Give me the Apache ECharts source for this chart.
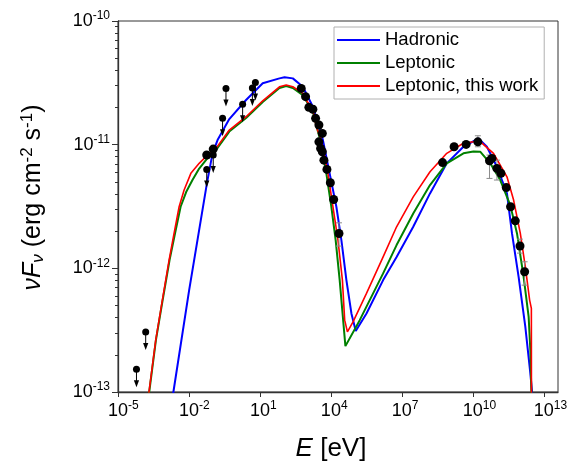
<!DOCTYPE html>
<html>
<head>
<meta charset="utf-8">
<script src="https://cdn.jsdelivr.net/npm/echarts@6/dist/echarts.min.js"></script>
<style>
  html, body { margin: 0; padding: 0; background: #fff; }
  #chart { width: 574px; height: 466px; }
</style>
</head>
<body>
<div id="chart"></div>
<script>
// values, stored as [log10(E / eV), log10(nuFnu / erg cm^-2 s^-1)]
const hadronic = [
  [-2.72, -13.074], [-2.658, -13.0], [-1.992, -12.176], [-1.241, -11.313], [-1.003, -11.07],
  [-0.791, -10.963], [-0.295, -10.793], [0.414, -10.639], [1.118, -10.504], [1.826, -10.464],
  [2.039, -10.455], [2.391, -10.464], [2.815, -10.532], [3.239, -10.693], [3.664, -10.963],
  [3.948, -11.232], [4.232, -11.502], [4.444, -11.772], [4.656, -12.095], [4.868, -12.365],
  [5.051, -12.506], [5.505, -12.365], [6.209, -12.095], [6.778, -11.909], [7.482, -11.664],
  [8.191, -11.394], [8.899, -11.151], [9.604, -11.017], [10.24, -10.949], [10.596, -11.017],
  [11.02, -11.179], [11.444, -11.394], [11.657, -11.718], [11.937, -12.069], [12.221, -12.473],
  [12.433, -12.85], [12.505, -12.999], [12.52, -13.2]
];
const leptonic = [
  [-3.74, -13.09], [-3.68, -13.0], [-3.397, -12.581], [-3.112, -12.257], [-2.82, -11.934],
  [-2.586, -11.715], [-2.353, -11.502], [-2.119, -11.383], [-1.852, -11.286], [-1.568, -11.193],
  [-1.216, -11.108], [-0.859, -11.044], [-0.295, -10.894], [0.414, -10.785], [1.118, -10.655],
  [1.826, -10.542], [2.111, -10.526], [2.391, -10.542], [2.815, -10.599], [3.239, -10.736],
  [3.524, -10.947], [3.808, -11.232], [4.02, -11.502], [4.202, -11.772], [4.372, -12.095],
  [4.614, -12.629], [5.22, -12.419], [6.209, -12.041], [6.778, -11.812], [7.482, -11.556],
  [8.191, -11.327], [8.899, -11.151], [9.604, -11.07], [10.028, -11.056], [10.312, -11.057],
  [10.736, -11.151], [11.16, -11.286], [11.584, -11.489], [11.869, -11.718], [12.149, -12.069],
  [12.361, -12.392], [12.433, -12.662], [12.476, -12.999], [12.49, -13.2]
];
const leptonicThisWork = [
  [-3.75, -13.09], [-3.69, -13.0], [-3.405, -12.581], [-3.125, -12.257], [-2.84, -11.934],
  [-2.628, -11.715], [-2.416, -11.502], [-2.205, -11.367], [-1.92, -11.232], [-1.568, -11.151],
  [-1.216, -11.084], [-0.859, -11.03], [-0.295, -10.882], [0.414, -10.774], [1.118, -10.645],
  [1.826, -10.532], [2.111, -10.518], [2.391, -10.532], [2.815, -10.585], [2.959, -10.639],
  [3.239, -10.72], [3.384, -10.855], [3.596, -10.963], [3.876, -11.232], [4.088, -11.502],
  [4.3, -11.772], [4.487, -12.095], [4.584, -12.419], [4.699, -12.514], [4.937, -12.433],
  [5.505, -12.203], [6.209, -11.907], [6.778, -11.664], [7.482, -11.422], [8.191, -11.219],
  [8.899, -11.07], [9.604, -10.989], [10.028, -10.977], [10.312, -10.975], [10.876, -11.07],
  [11.444, -11.26], [11.725, -11.448], [12.009, -11.718], [12.221, -11.988], [12.403, -12.257],
  [12.476, -12.324], [12.48, -13.2]
];
const detections = [
  [-1.249, -11.084], [-0.974, -11.036], [2.747, -10.545], [2.93, -10.612], [3.07, -10.698],
  [3.239, -10.714], [3.354, -10.787], [3.494, -10.841], [3.638, -10.909], [3.494, -10.977],
  [3.566, -11.03], [3.638, -11.057], [3.706, -11.125], [3.833, -11.2], [3.978, -11.308],
  [4.118, -11.443], [4.342, -11.718], [8.721, -11.145], [9.209, -11.017], [9.718, -10.998],
  [10.214, -10.977], [10.706, -11.13], [10.808, -11.111], [11.02, -11.192], [11.19, -11.232],
  [11.415, -11.347], [11.597, -11.502], [11.796, -11.616], [11.996, -11.819], [12.191, -12.028]
];
const upperLimits = [
  [-4.219, -12.816], [-3.829, -12.514], [-1.249, -11.201], [-0.974, -11.084], [-0.579, -10.787],
  [-0.435, -10.545], [0.269, -10.674], [0.681, -10.542], [0.808, -10.498]
];
// [log10 E, log10 lower, log10 upper]
const errorBars = [
  [4.342, -11.82, -11.632], [10.214, -11.017, -10.928], [10.706, -11.273, -11.084],
  [11.02, -11.286, -11.125], [11.996, -11.877, -11.764], [12.191, -12.136, -11.947]
];
const seriesNames = ['Hadronic', 'Leptonic', 'Leptonic, this work'];
const seriesColors = ['#0000FF', '#008000', '#FF0000'];
const yMinorTicks = [];
[-13, -12, -11].forEach(d => [2, 3, 4, 5, 6, 7, 8, 9].forEach(k => yMinorTicks.push(d + Math.log10(k))));

const lin = rows => rows.map(r => r.map(v => Math.pow(10, v)));
const font = 'Liberation Sans, Arial, sans-serif';
const powRich = {
  b: { fontSize: 18, fontFamily: font, color: '#000' },
  s: { fontSize: 12, fontFamily: font, color: '#000', padding: [0, 0, 10, 0] },
  h: { fontSize: 12, fontFamily: font, color: 'rgba(0,0,0,0)', padding: [0, 0, 10, 0] }
};
// x labels: a hidden copy of the exponent on the left keeps "10" centred on the tick
const xLabel = v => {
  const e = Math.round(Math.log10(v));
  return '{h|' + e + '}{b|10}{s|' + e + '}';
};
const yLabel = v => '{b|10}{s|' + Math.round(Math.log10(v)) + '}';

function renderLimit(params, api) {
  const p = api.coord([api.value(0), api.value(1)]);
  return {
    type: 'group',
    children: [
      { type: 'line', shape: { x1: p[0], y1: p[1], x2: p[0], y2: p[1] + 12 }, style: { stroke: '#000', lineWidth: 1 } },
      { type: 'polygon', shape: { points: [[p[0] - 2.6, p[1] + 11], [p[0] + 2.6, p[1] + 11], [p[0], p[1] + 18]] }, style: { fill: '#000' } },
      { type: 'circle', shape: { cx: p[0], cy: p[1], r: 3.5 }, style: { fill: '#000' } }
    ]
  };
}

function renderErr(params, api) {
  const x = api.value(0);
  const lo = api.coord([x, api.value(1)]);
  const hi = api.coord([x, api.value(2)]);
  const st = { stroke: '#8c8c8c', lineWidth: 1 };
  return {
    type: 'group',
    children: [
      { type: 'line', shape: { x1: lo[0], y1: lo[1], x2: hi[0], y2: hi[1] }, style: st },
      { type: 'line', shape: { x1: lo[0] - 3, y1: lo[1], x2: lo[0] + 3, y2: lo[1] }, style: st },
      { type: 'line', shape: { x1: hi[0] - 3, y1: hi[1], x2: hi[0] + 3, y2: hi[1] }, style: st }
    ]
  };
}

const chart = echarts.init(document.getElementById('chart'), null, { renderer: 'canvas' });

chart.setOption({
  animation: false,
  textStyle: { fontFamily: font },
  grid: {
    left: 118, right: 16, top: 21, bottom: 74,
    show: true, borderColor: '#333', borderWidth: 1,
    outerBoundsMode: 'none'
  },
  legend: {
    data: seriesNames,
    orient: 'vertical',
    left: 334, top: 27,
    itemWidth: 43, itemHeight: 12, itemGap: 3,
    padding: [3, 6, 3, 2],
    borderColor: '#b0b0b0', borderWidth: 1,
    backgroundColor: '#fff',
    itemStyle: { opacity: 0 },
    lineStyle: { width: 2 },
    textStyle: { fontSize: 18.5, color: '#000', lineHeight: 20, fontFamily: font }
  },
  xAxis: {
    type: 'log',
    min: 1e-5, max: 4e13,
    interval: 3,
    name: '{i|E}{n| [eV]}',
    nameLocation: 'middle',
    nameGap: 44,
    nameTextStyle: {
      padding: [0, 14, 0, 0],
      rich: {
        i: { fontSize: 26, fontStyle: 'italic', fontFamily: font, color: '#000' },
        n: { fontSize: 26, fontFamily: font, color: '#000' }
      }
    },
    axisLine: { lineStyle: { color: '#333', width: 1.3 } },
    axisTick: { length: 5, lineStyle: { color: '#333' } },
    axisLabel: { formatter: xLabel, rich: powRich, margin: 8, showMaxLabel: false },
    splitLine: { show: false }
  },
  yAxis: [
    {
      type: 'log',
      min: 1e-13, max: 1e-10,
      interval: 1,
      name: '{i|νF}{sub|ν}{n| (erg cm}{sup|-2}{n| s}{sup|-1}{n|)}',
      nameLocation: 'middle',
      nameRotate: 90,
      nameGap: 70,
      nameTextStyle: {
        padding: [0, 0, 0, 18],
        rich: {
          i: { fontSize: 25, fontStyle: 'italic', fontFamily: font, color: '#000' },
          sub: { fontSize: 17, fontStyle: 'italic', fontFamily: font, color: '#000', padding: [10, 0, 0, 0] },
          n: { fontSize: 25, fontFamily: font, color: '#000' },
          sup: { fontSize: 17, fontFamily: font, color: '#000', padding: [0, 0, 12, 0] }
        }
      },
      axisLine: { show: true, lineStyle: { color: '#333', width: 1.3 } },
      axisTick: { length: 6, lineStyle: { color: '#333' } },
      axisLabel: { formatter: yLabel, rich: powRich, margin: 8 },
      splitLine: { show: false }
    },
    {
      // minor ticks at 2..9 of each decade
      type: 'value',
      min: -13, max: -10,
      position: 'left',
      axisLine: { show: false },
      axisLabel: { show: false },
      axisTick: { show: true, length: 3, customValues: yMinorTicks, lineStyle: { color: '#333' } },
      splitLine: { show: false }
    }
  ],
  series: [
    ...[hadronic, leptonic, leptonicThisWork].map((d, i) => ({
      name: seriesNames[i],
      type: 'line',
      data: lin(d),
      symbol: 'none',
      clip: true,
      z: 2 + i,
      color: seriesColors[i],
      lineStyle: { color: seriesColors[i], width: i === 2 ? 1.6 : 2 }
    })),
    {
      type: 'custom',
      data: lin(errorBars),
      encode: { x: 0, y: [1, 2] },
      renderItem: renderErr,
      z: 6
    },
    {
      type: 'scatter',
      data: lin(detections),
      symbol: 'circle',
      symbolSize: 9,
      itemStyle: { color: '#000', opacity: 1 },
      z: 7
    },
    {
      type: 'custom',
      data: lin(upperLimits),
      encode: { x: 0, y: 1 },
      renderItem: renderLimit,
      z: 7
    }
  ]
});
</script>
</body>
</html>
